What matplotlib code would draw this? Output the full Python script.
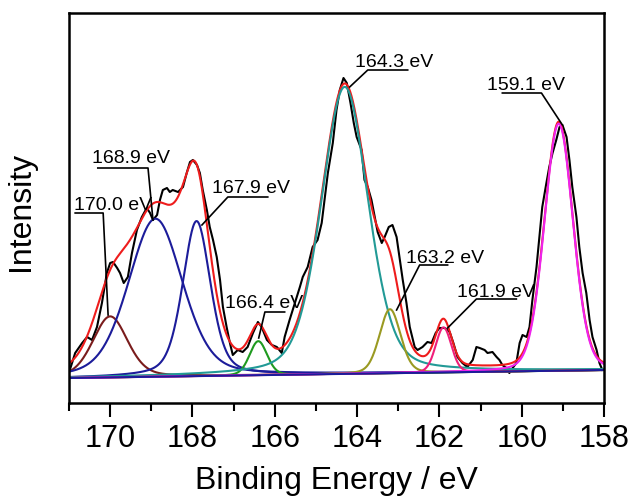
import numpy as np
import matplotlib
matplotlib.use("Agg")
import matplotlib.pyplot as plt

plt.rcParams['font.family'] = ['Liberation Sans', 'DejaVu Sans']

# raw S 2p / S-O spectrum (binding energy, intensity)
energy = [170.98, 170.85, 170.68, 170.56, 170.44, 170.32, 170.20, 170.08, 170.00, 169.93,
          169.83, 169.76, 169.67, 169.57, 169.47, 169.35, 169.23, 169.11, 169.03, 168.96,
          168.86, 168.79, 168.72, 168.62, 168.55, 168.48, 168.35, 168.23, 168.14, 168.06,
          167.99, 167.89, 167.82, 167.75, 167.65, 167.58, 167.50, 167.41, 167.33, 167.26,
          167.17, 167.09, 167.02, 166.90, 166.78, 166.66, 166.53, 166.41, 166.32, 166.19,
          166.07, 165.95, 165.83, 165.76, 165.64, 165.51, 165.39, 165.32, 165.20, 165.08,
          164.96, 164.86, 164.79, 164.71, 164.62, 164.59, 164.50, 164.42, 164.33, 164.25,
          164.16, 164.08, 164.01, 163.89, 163.82, 163.74, 163.65, 163.57, 163.50, 163.40,
          163.33, 163.23, 163.14, 163.04, 162.97, 162.89, 162.80, 162.72, 162.60, 162.53,
          162.41, 162.29, 162.19, 162.09, 162.00, 161.87, 161.75, 161.66, 161.56, 161.44,
          161.32, 161.19, 161.10, 161.02, 160.90, 160.83, 160.71, 160.61, 160.54, 160.47,
          160.37, 160.30, 160.22, 160.13, 160.05, 159.98, 159.88, 159.81, 159.74, 159.64,
          159.57, 159.50, 159.40, 159.33, 159.25, 159.16, 159.08, 159.01, 158.91, 158.84,
          158.77, 158.67, 158.60, 158.52, 158.43, 158.35, 158.28, 158.18, 158.11, 158.04]
intensity = [38, 55, 65, 71, 68, 81, 105, 135, 145, 146,
             140, 135, 125, 131, 155, 178, 191, 200, 195, 188,
             193, 208, 218, 220, 216, 218, 216, 221, 235, 246,
             248, 243, 235, 218, 198, 181, 168, 151, 128, 101,
             81, 65, 53, 58, 56, 61, 75, 86, 81, 68,
             63, 61, 55, 71, 88, 105, 121, 131, 141, 161,
             168, 185, 208, 235, 258, 265, 298, 318, 330, 325,
             305, 285, 271, 258, 228, 221, 208, 191, 176, 165,
             171, 181, 183, 171, 151, 128, 105, 81, 61, 58,
             61, 66, 65, 75, 80, 80, 76, 65, 51, 45,
             41, 48, 61, 60, 58, 55, 56, 51, 48, 43,
             40, 35, 40, 45, 65, 73, 71, 81, 108, 141,
             171, 201, 225, 241, 255, 268, 281, 283, 271, 248,
             221, 191, 161, 135, 115, 88, 71, 58, 45, 38]

# fitted components: centre (eV), height above background, FWHM (eV), lorentz share
centres = [170.0, 168.9, 167.9, 166.4, 164.3, 163.2, 161.9, 159.1]
heights = [61, 158, 155, 34, 287, 64, 45, 247]
fwhm = [1.0, 1.55, 0.8, 0.5, 1.35, 0.6, 0.45, 0.82]
mix = [0.3, 0.3, 0.4, 0.2, 0.3, 0.2, 0.15, 0.15]
colors = ['#7a1c1c', '#1c1c9a', '#1c1c9a', '#1f9a1f', '#229a96', '#9a9a22', '#f0207a', '#ee22ee']
labels = ['170.0 eV', '168.9 eV', '167.9 eV', '166.4 eV', '164.3 eV', '163.2 eV', '161.9 eV', '159.1 eV']

# linear background at the two ends of the range
bg_energy = [171.0, 158.0]
bg_level = [30, 38]

# label placement: text left/baseline, leader line far end, elbow, line level, tip
text_x = [170.87, 170.44, 167.53, 167.21, 164.06, 162.80, 161.56, 160.85]
text_y = [198, 245, 215, 100, 341, 145, 111, 318]
line_far = [170.85, 170.30, 166.17, 165.76, 162.77, 161.80, 160.13, 160.47]
line_elbow = [170.17, 169.08, 167.14, 166.24, 163.74, 162.48, 161.10, 159.52]
line_y = [195, 240, 211, 96, 338, 143, 109, 315]
tip_x = [170.05, 168.96, 167.77, 166.39, 164.18, 163.04, 161.80, 159.01]
tip_y = [93, 188, 183, 70, 321, 98, 80, 283]


def pseudo_voigt(x, c, h, w, eta):
    g = np.exp(-4 * np.log(2) * (x - c) ** 2 / w ** 2)
    l = 1 / (1 + 4 * (x - c) ** 2 / w ** 2)
    return h * ((1 - eta) * g + eta * l)


x = np.linspace(171, 158, 1300)
bg = np.interp(x, bg_energy[::-1], bg_level[::-1])

fig = plt.figure(figsize=(6.35, 4.96), dpi=100)
ax = fig.add_axes([69 / 635, 1 - 403 / 496, 535 / 635, 390 / 496])

ax.plot(energy, intensity, color='black', lw=1.5)

comps = [pseudo_voigt(x, c, h, w, e) for c, h, w, e in zip(centres, heights, fwhm, mix)]
total = bg + np.sum(comps, axis=0)
ax.plot(x, total, color='#ee1c1c', lw=1.5)

for comp, col in zip(comps, colors):
    ax.plot(x, bg + comp, color=col, lw=1.5)

ax.plot(bg_energy, bg_level, color='#1c1c9a', lw=1.5)

for i in range(len(labels)):
    ax.text(text_x[i], text_y[i], labels[i], fontsize=14, ha='left', va='baseline')
    ax.plot([line_far[i], line_elbow[i], tip_x[i]], [line_y[i], line_y[i], tip_y[i]],
            color='black', lw=1.2)

ax.set_xlim(171, 158)
ax.set_ylim(5, 395)
ax.set_xticks([170, 168, 166, 164, 162, 160, 158])
ax.set_xticks(np.arange(171, 157, -1), minor=True)
ax.set_yticks([])
ax.tick_params(axis='x', which='major', direction='out', length=10, width=1.5,
               labelsize=22, pad=5)
ax.tick_params(axis='x', which='minor', direction='out', length=6, width=1.5)
for s in ax.spines.values():
    s.set_linewidth(1.8)

ax.set_xlabel('Binding Energy / eV', fontsize=23, labelpad=9)
ax.set_ylabel('Intensity', fontsize=23)
ax.yaxis.set_label_coords(-0.062, 0.49)

fig.savefig('out.png', dpi=100)
